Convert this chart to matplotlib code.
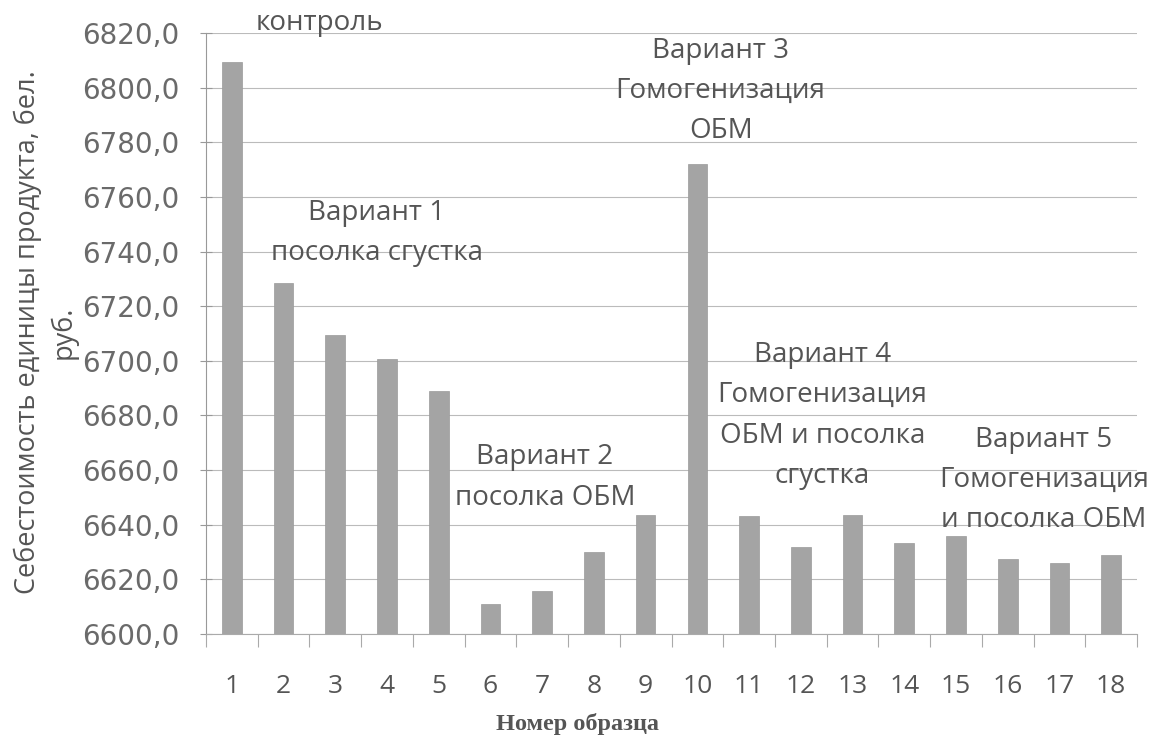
import matplotlib
matplotlib.use("Agg")
import matplotlib.pyplot as plt
from matplotlib.ticker import FixedLocator, NullFormatter

# ---- data ----
samples = list(range(1, 19))
sample_labels = [str(i) for i in samples]
cost = [6809.5, 6728.6, 6709.5, 6700.7, 6689.1, 6611.1, 6615.9, 6630.0, 6643.6,
        6772.0, 6643.3, 6632.0, 6643.6, 6633.3, 6636.0, 6627.5, 6626.0, 6628.8]
yticks = [6600, 6620, 6640, 6660, 6680, 6700, 6720, 6740, 6760, 6780, 6800, 6820]
ytick_labels = ["6600,0", "6620,0", "6640,0", "6660,0", "6680,0", "6700,0",
                "6720,0", "6740,0", "6760,0", "6780,0", "6800,0", "6820,0"]
group_texts = ["контроль",
               "Вариант 1\nпосолка сгустка",
               "Вариант 2\nпосолка ОБМ",
               "Вариант 3\nГомогенизация\nОБМ",
               "Вариант 4\nГомогенизация\nОБМ и посолка\nсгустка",
               "Вариант 5\nГомогенизация\nи посолка ОБМ"]
group_x = [2.7, 3.8, 7.05, 10.45, 12.42, 16.7]
group_y = [6823.5, 6746.9, 6657.3, 6798.7, 6680.0, 6656.4]
ylabel = "Себестоимость единицы продукта, бел.\nруб."
xlabel = "Номер образца"

W, H = 1154, 735
fig = plt.figure(figsize=(W / 100, H / 100), dpi=100)
ax = fig.add_axes([206 / W, 1 - 634 / H, (1137 - 206) / W, (634 - 33) / H])

txt_col = "#555555"
ax.bar(samples, [c - 6600 for c in cost], bottom=6600, width=0.38,
       color="#a4a4a4", edgecolor="#9a9a9a", linewidth=0.5, zorder=3)

ax.set_xlim(0.5, 18.5)
ax.set_ylim(6600, 6820)
ax.set_yticks(yticks)
ax.set_yticklabels(ytick_labels, fontfamily="DejaVu Sans", fontsize=20, color="#6a6a6a")
ax.yaxis.grid(True, color="#bbbbbb", linewidth=0.8, zorder=0)
ax.tick_params(axis="y", direction="inout", length=8, color="#999999", pad=15)

# x: boundary ticks as major, labels at centres as minor
ax.xaxis.set_major_locator(FixedLocator([i + 0.5 for i in range(0, 19)]))
ax.xaxis.set_major_formatter(NullFormatter())
ax.xaxis.set_minor_locator(FixedLocator(samples))
ax.set_xticklabels(sample_labels, minor=True, fontfamily="Open Sans", fontsize=19, color="#555555")
ax.tick_params(axis="x", which="major", direction="out", length=9, color="#aaaaaa")
ax.tick_params(axis="x", which="minor", length=0, pad=29)

for s in ["top", "right"]:
    ax.spines[s].set_visible(False)
ax.spines["left"].set_color("#999999")
ax.spines["bottom"].set_color("#aaaaaa")

for t, x, y in zip(group_texts, group_x, group_y):
    ax.text(x, y, t, ha="center", va="center", fontfamily="Open Sans", fontsize=20,
            color=txt_col, linespacing=1.58, clip_on=False, zorder=5)

fig.text(46 / W, 1 - 332 / H, ylabel, rotation=90, ha="center", va="center",
         fontfamily="Open Sans", fontsize=19.5, color=txt_col, linespacing=1.35,
         multialignment="center")
fig.text(577 / W, 1 - 724 / H, xlabel, ha="center", va="center",
         fontfamily="Liberation Serif", fontsize=17.5, fontweight="bold", color="#555555")

fig.savefig("out.png", dpi=100)
